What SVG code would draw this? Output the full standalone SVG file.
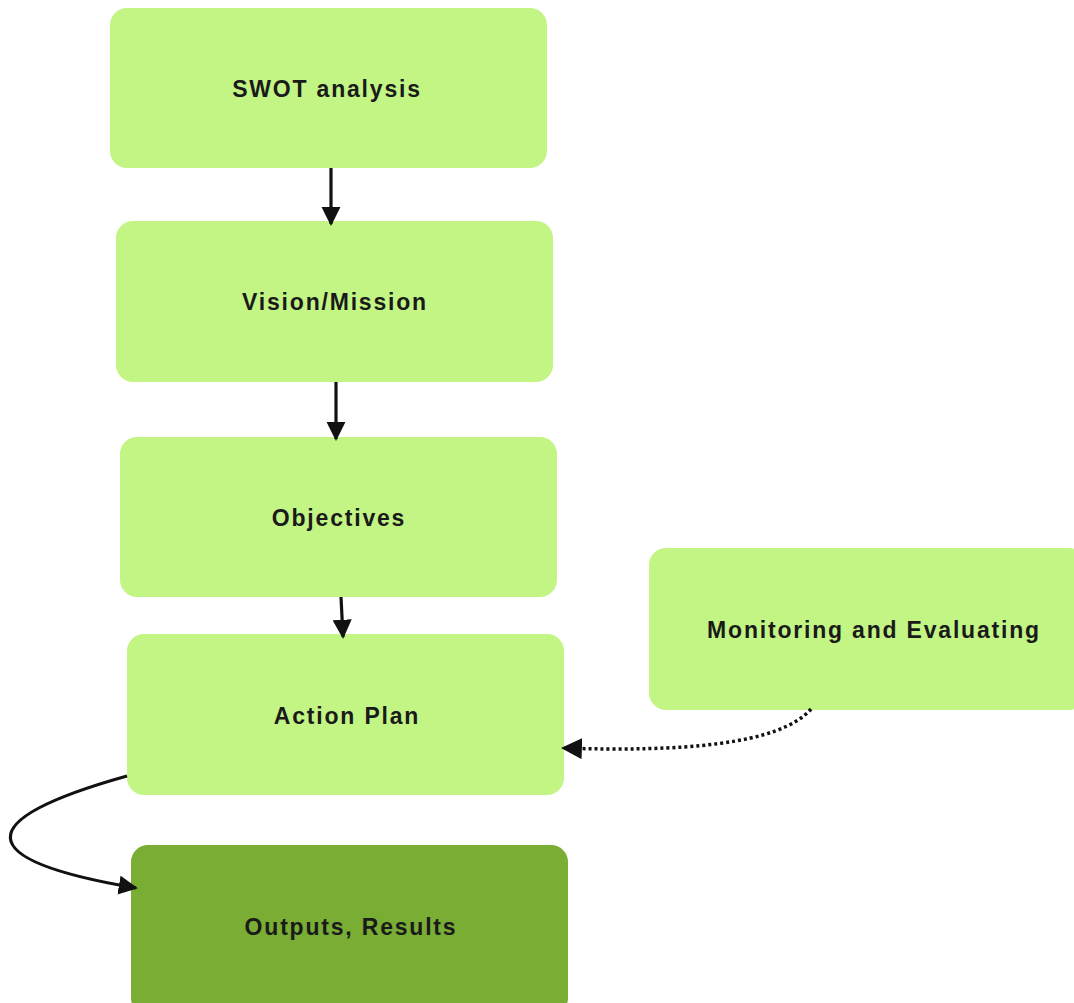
<svg xmlns="http://www.w3.org/2000/svg" width="1074" height="1003" viewBox="0 0 1074 1003">
<style>
.n{fill:#c3f584}
.d{fill:#79ad33}
.t{font-family:"Liberation Sans",Arial,sans-serif;font-weight:bold;font-size:23px;letter-spacing:1.8px;fill:#1a1a1a;text-anchor:middle}
.c{fill:none;stroke:#111;stroke-width:3.2}
.dot{stroke-dasharray:3 3;stroke-width:3.5}
</style>
<defs>
<marker id="ah" viewBox="0 0 10 10" refX="9" refY="5" markerWidth="6" markerHeight="6" markerUnits="strokeWidth" orient="auto">
<path d="M0,0 L10,5 L0,10 z" fill="#111"/>
</marker>
</defs>
<rect width="1074" height="1003" fill="#fff"/>
<g id="swot"><rect class="n" x="110" y="8" width="437" height="160" rx="17"/><text class="t" x="327" y="97">SWOT analysis</text></g>
<g id="vision"><rect class="n" x="116" y="221" width="437" height="161" rx="17"/><text class="t" x="335" y="310">Vision/Mission</text></g>
<g id="objectives"><rect class="n" x="120" y="437" width="437" height="160" rx="17"/><text class="t" x="339" y="526">Objectives</text></g>
<g id="action"><rect class="n" x="127" y="634" width="437" height="161" rx="17"/><text class="t" x="347" y="724">Action Plan</text></g>
<g id="monitoring"><rect class="n" x="649" y="548" width="437" height="162" rx="17"/><text class="t" x="874" y="638">Monitoring and Evaluating</text></g>
<g id="outputs"><rect class="d" x="131" y="845" width="437" height="170" rx="17"/><text class="t" x="351" y="935">Outputs, Results</text></g>
<g id="connectors">
<path class="c" d="M331,168 L331,224" marker-end="url(#ah)"/>
<path class="c" d="M336,382 L336,439" marker-end="url(#ah)"/>
<path class="c" d="M341,597 L343,637" marker-end="url(#ah)"/>
<path class="c dot" d="M811,709 C780,745 680,752 563,748" marker-end="url(#ah)"/>
<path class="c" d="M127,776 C-30,820 -30,860 136,888" marker-end="url(#ah)"/>
</g>
</svg>
